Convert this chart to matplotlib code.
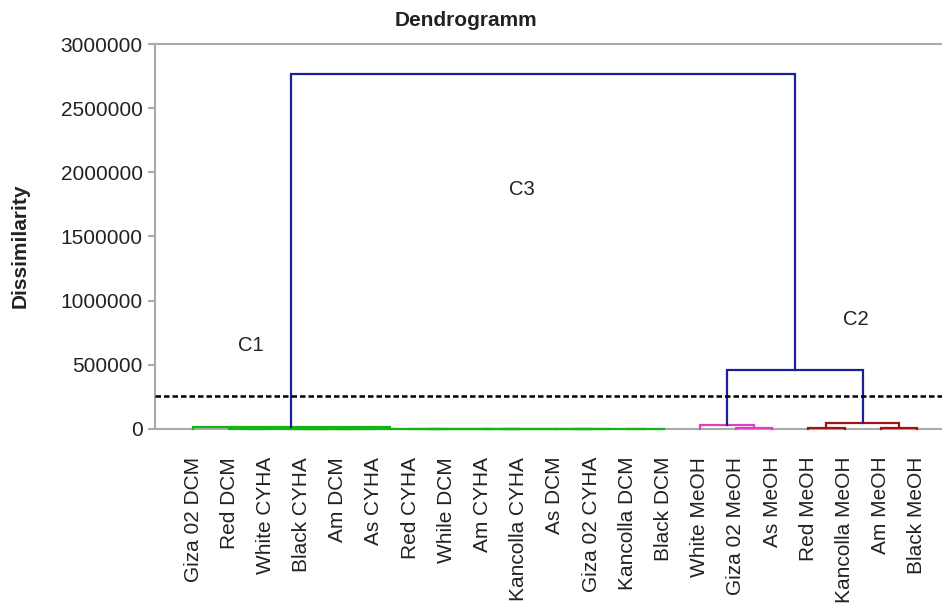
import matplotlib
matplotlib.use("Agg")
import matplotlib.pyplot as plt

plt.rcParams['font.family'] = ['Liberation Sans', 'DejaVu Sans']

# leaf labels in display order
leaves = ['Giza 02 DCM', 'Red DCM', 'White CYHA', 'Black CYHA', 'Am DCM',
          'As CYHA', 'Red CYHA', 'While DCM', 'Am CYHA', 'Kancolla CYHA',
          'As DCM', 'Giza 02 CYHA', 'Kancolla DCM', 'Black DCM',
          'White MeOH', 'Giza 02 MeOH', 'As MeOH', 'Red MeOH',
          'Kancolla MeOH', 'Am MeOH', 'Black MeOH']

# linkage rows: child a, child b, dissimilarity (new node id = 21 + row)
link_a = [1, 4, 3, 21, 6, 8, 10, 12, 27, 26, 25, 24, 0,
          15, 14, 17, 19, 36, 35, 33]
link_b = [2, 5, 22, 23, 7, 9, 11, 13, 28, 29, 30, 31, 32,
          16, 34, 18, 20, 37, 38, 39]
link_h = [800, 600, 1200, 2000, 500, 700, 400, 600, 1000, 1500, 1800, 2500, 17000,
          4000, 31000, 5000, 5000, 47000, 460000, 2770000]

# sub-cluster of each leaf (colour group below the cut)
leaf_group = [0] * 14 + [1] * 3 + [2] * 4
cut = 260000

group_colors = ['#14b414', '#e040c0', '#a01414']
above_color = '#1e1e9a'

n = len(leaves)
pos = {i: float(i) for i in range(n)}
hgt = {i: 0.0 for i in range(n)}
first_leaf = {i: i for i in range(n)}

fig = plt.figure(figsize=(9.42, 6.03), dpi=100)
ax = fig.add_axes([155 / 942, 1 - 429 / 603, (952 - 155) / 942, (429 - 44) / 603])

for k, (a, b, h) in enumerate(zip(link_a, link_b, link_h)):
    node = n + k
    xa, xb = pos[a], pos[b]
    ha, hb = hgt[a], hgt[b]
    first_leaf[node] = first_leaf[a]
    color = above_color if h > cut else group_colors[leaf_group[first_leaf[a]]]
    ax.plot([xa, xa, xb, xb], [ha, h, h, hb], color=color, lw=1.6,
            zorder=3, clip_on=False, solid_joinstyle='miter')
    pos[node] = (xa + xb) / 2
    hgt[node] = h

# cut-off line
ax.axhline(cut, color='black', lw=1.8, ls=(0, (2.2, 1.2)), zorder=4)

ax.set_xlim(-1.05, 20.97)
ax.set_ylim(0, 3000000)
ax.set_yticks(range(0, 3000001, 500000))
ax.set_yticklabels([str(v) for v in range(0, 3000001, 500000)])
ax.set_xticks(range(n))
ax.set_xticklabels(leaves, rotation=90)

ax.tick_params(axis='x', length=0, pad=20, labelsize=15, labelcolor='#222222')
ax.tick_params(axis='y', length=5, width=1.5, color='#aaaaaa', pad=4,
               labelsize=15, labelcolor='#222222')

for side in ['left', 'top', 'bottom']:
    ax.spines[side].set_color('#aaaaaa')
    ax.spines[side].set_linewidth(1.5)
ax.spines['right'].set_visible(False)

ax.text(1.6, 650000, 'C1', fontsize=14.5, color='#222222', ha='center', va='center')
ax.text(9.1, 1870000, 'C3', fontsize=14.5, color='#222222', ha='center', va='center')
ax.text(18.3, 850000, 'C2', fontsize=14.5, color='#222222', ha='center', va='center')

fig.text(466 / 942, 1 - 21 / 603, 'Dendrogramm', fontsize=15, fontweight='bold',
         ha='center', va='center', color='#222222')
fig.text(20 / 942, 1 - 246 / 603, 'Dissimilarity', fontsize=15, fontweight='bold',
         rotation=90, ha='center', va='center', color='#222222')

fig.savefig('out.png', dpi=100)
